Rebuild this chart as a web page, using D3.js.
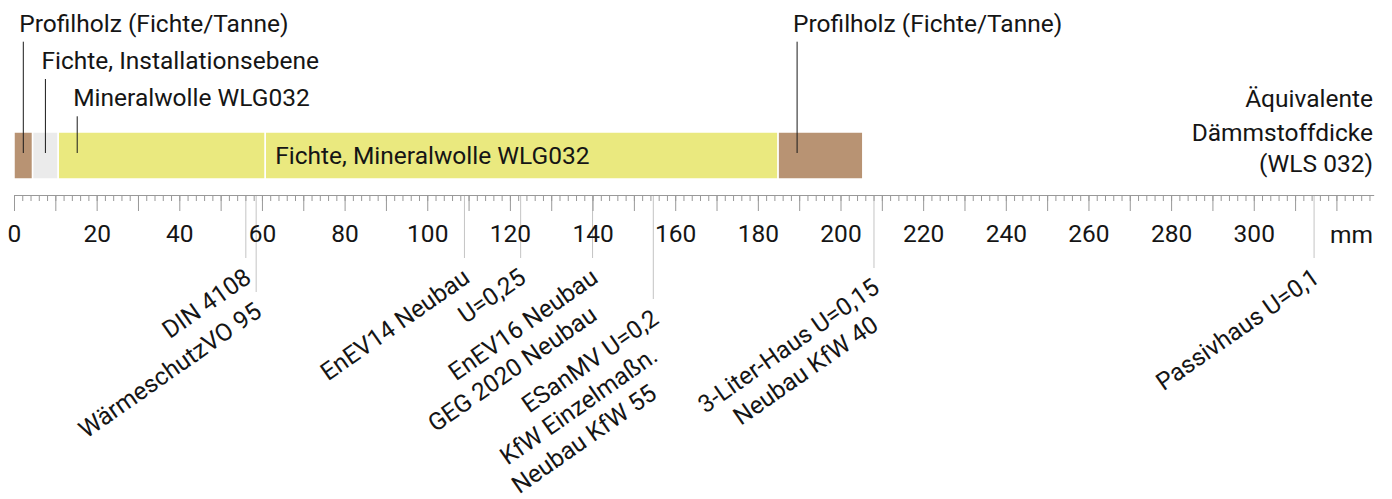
<!DOCTYPE html>
<html>
<head>
<meta charset="utf-8">
<script src="https://cdn.jsdelivr.net/npm/d3@7"></script>
<style>
  body { margin: 0; background: #fff; }
  text { font-family: Roboto, "Noto Sans", sans-serif; font-size: 24.5px; fill: #151515; }
</style>
</head>
<body>
<div id="chart"></div>
<script>
// Wandaufbau, Schichtdicken als äquivalente Dämmstoffdicke in mm
const layerNames = [
    "Profilholz (Fichte/Tanne)",
    "Fichte, Installationsebene",
    "Mineralwolle WLG032",
    "Fichte, Mineralwolle WLG032",
    "Profilholz (Fichte/Tanne)"
];
const layerKinds = ["holz", "installation", "daemmung", "daemmung", "holz"];
const layerThickness = [4.5, 6.2, 50.1, 124.1, 20.5];

// Anforderungen (Referenzlinien) in mm
const refValues = [56.1, 58.6, 109.0, 122.6, 140.0, 154.7, 208.1, 314.6];
const refLabels = [
    ["DIN 4108"],
    ["WärmeschutzVO 95"],
    ["EnEV14 Neubau"],
    ["U=0,25"],
    ["EnEV16 Neubau", "GEG 2020 Neubau"],
    ["ESanMV U=0,2", "KfW Einzelmaßn.", "Neubau KfW 55"],
    ["3-Liter-Haus U=0,15", "Neubau KfW 40"],
    ["Passivhaus U=0,1"]
];

// axis
const axisMax = 329;
const labelTicks = [0, 20, 40, 60, 80, 100, 120, 140, 160, 180, 200, 220, 240, 260, 280, 300];
const unit = "mm";
const titleLines = ["Äquivalente", "Dämmstoffdicke", "(WLS 032)"];

// layout
const width = 1392;
const height = 499;
const barTop = 132, barBottom = 179;
const axisY = 195;
const leaderEnd = [258, 292, 258, 258, 258, 299, 268, 258]; // y where reference lines stop
const colors = d3.scaleOrdinal()
    .domain(["holz", "installation", "daemmung"])
    .range(["#b89373", "#ebebeb", "#eae97f"]);

const x = d3.scaleLinear().domain([0, axisMax]).range([14, 1373.6]);

const svg = d3.select("#chart")
    .append("svg")
    .attr("width", width)
    .attr("height", height);

// build layers with start/end
let acc = 0;
const layers = layerNames.map((name, i) => {
    const l = { name: name, kind: layerKinds[i], start: acc, end: acc + layerThickness[i] };
    acc += layerThickness[i];
    return l;
});

// reference lines (drawn first, behind the tick labels)
svg.selectAll("line.ref")
    .data(refValues)
    .enter()
    .append("line")
    .attr("class", "ref")
    .attr("x1", d => x(d))
    .attr("x2", d => x(d))
    .attr("y1", axisY)
    .attr("y2", (d, i) => leaderEnd[i])
    .attr("stroke", "#c4c4c4")
    .attr("stroke-width", 1);

refValues.forEach((v, i) => {
    refLabels[i].forEach((txt, j) => {
        const px = x(v) + 7 - j;
        const py = leaderEnd[i] + 23 + j * 37.5;
        svg.append("text")
            .attr("text-anchor", "end")
            .attr("transform", `translate(${px},${py}) rotate(-35)`)
            .text(txt);
    });
});

// bars
svg.selectAll("rect.layer")
    .data(layers)
    .enter()
    .append("rect")
    .attr("class", "layer")
    .attr("x", d => x(d.start))
    .attr("y", barTop)
    .attr("width", d => x(d.end) - x(d.start))
    .attr("height", barBottom - barTop)
    .attr("fill", d => colors(d.kind))
    .attr("stroke", "#fff")
    .attr("stroke-width", 1.5);

// labels: inside if it fits, otherwise callout above
const callouts = []; // {level, right}
layers.forEach(d => {
    const x0 = x(d.start), w = x(d.end) - x(d.start);
    const t = svg.append("text").text(d.name);
    const tw = t.node().getComputedTextLength();
    if (tw + 20 < w) {
        t.attr("x", x0 + 10).attr("y", (barTop + barBottom) / 2 + 8.5);
        return;
    }
    const cx = x0 + Math.min(w / 2, 19);
    let level = 0;
    while (callouts.some(c => c.level === level && c.right > cx)) level++;
    callouts.push({ level: level, right: cx - 4 + tw });
    const baseY = 31.7 + level * 37.3;
    t.attr("x", cx - 4).attr("y", baseY);
    svg.append("line")
        .attr("x1", cx).attr("x2", cx)
        .attr("y1", baseY + 10).attr("y2", 153)
        .attr("stroke", "#1a1a1a")
        .attr("stroke-width", 1);
});

// axis: major ticks every 10 mm (labels every 20), minor every 2 mm
const minor = d3.axisBottom(x)
    .tickValues(d3.range(0, axisMax, 2))
    .tickSize(6)
    .tickSizeOuter(0)
    .tickFormat("");
const major = d3.axisBottom(x)
    .tickValues(d3.range(0, axisMax, 10))
    .tickSize(16)
    .tickSizeOuter(0)
    .tickPadding(14)
    .tickFormat(d => labelTicks.includes(d) ? d : "");

const gMinor = svg.append("g").attr("transform", `translate(0,${axisY})`).call(minor);
const gMajor = svg.append("g").attr("transform", `translate(0,${axisY})`).call(major);
[gMinor, gMajor].forEach(g => {
    g.attr("font-size", null).attr("font-family", null);
    g.selectAll("path, line").attr("stroke", "#999");
    g.selectAll("text").attr("fill", null);
});

svg.append("text")
    .attr("x", 1373)
    .attr("y", 242.5)
    .attr("text-anchor", "end")
    .text(unit);

// title right
const titleY = [106.7, 140.7, 171.7];
titleLines.forEach((t, i) => {
    svg.append("text")
        .attr("x", 1373)
        .attr("y", titleY[i])
        .attr("text-anchor", "end")
        .text(t);
});
</script>
</body>
</html>
